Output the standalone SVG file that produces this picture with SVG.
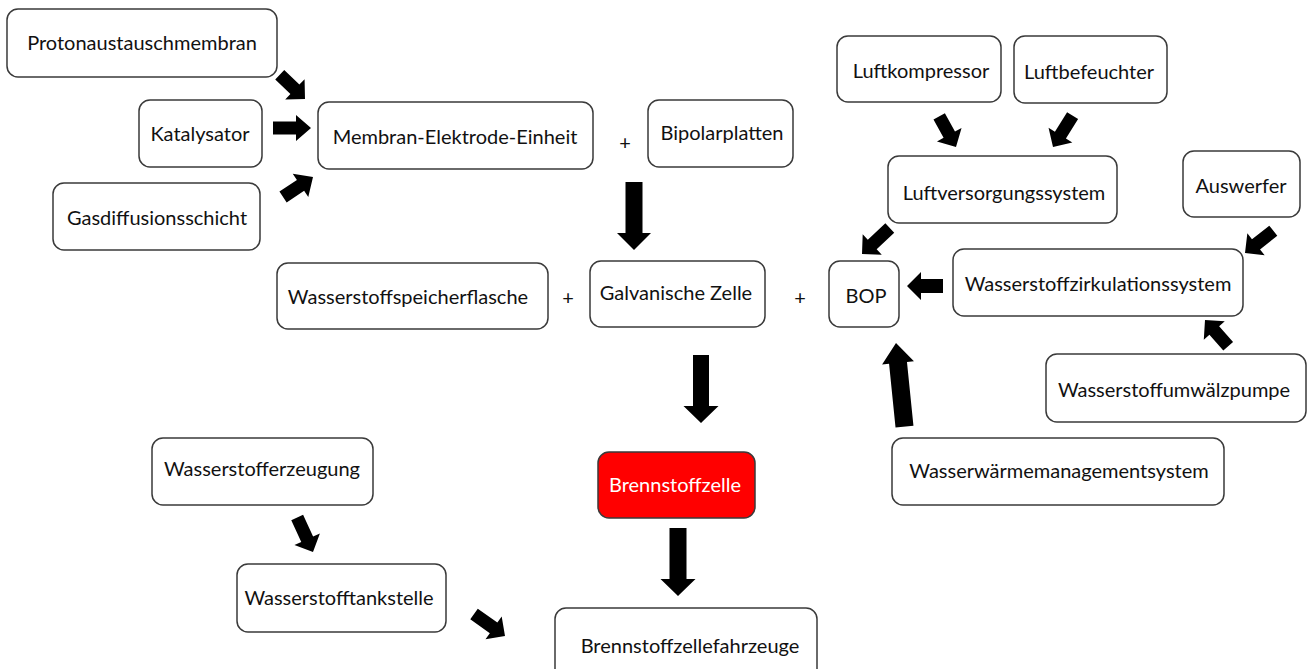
<svg xmlns="http://www.w3.org/2000/svg" width="1310" height="669" viewBox="0 0 1310 669">
<style>
.box{fill:#fff;stroke:#3a3a3a;stroke-width:1.5}
.hot{fill:#ff0000;stroke:#3a3a3a;stroke-width:1.5}
.lbl{font-family:Lato,"Open Sans",sans-serif;font-size:20px;text-anchor:middle;dominant-baseline:central;fill:#111}
.wt{fill:#fff}
.arr{fill:#000}
</style>
<rect width="1310" height="669" fill="#fff"/>
<g id="connectors">
<path class="arr" transform="translate(305,99) rotate(43.8)" d="M-35,-6.5H-14V-14L0,0L-14,14V6.5H-35Z"/>
<path class="arr" transform="translate(311,128) rotate(0)" d="M-38,-6.5H-15V-13L0,0L-15,13V6.5H-38Z"/>
<path class="arr" transform="translate(313,177) rotate(-33.7)" d="M-36,-6.5H-15V-14L0,0L-15,14V6.5H-36Z"/>
<path class="arr" transform="translate(634,250) rotate(90)" d="M-68,-8.5H-17V-17L0,0L-17,17V8.5H-68Z"/>
<path class="arr" transform="translate(701,423) rotate(90)" d="M-68,-8H-17V-17.5L0,0L-17,17.5V8H-68Z"/>
<path class="arr" transform="translate(678,596) rotate(90)" d="M-68,-8.5H-17V-17.5L0,0L-17,17.5V8.5H-68Z"/>
<path class="arr" transform="translate(956,147) rotate(61.3)" d="M-35,-6.5H-14V-14L0,0L-14,14V6.5H-35Z"/>
<path class="arr" transform="translate(1053,147) rotate(122)" d="M-37,-6.5H-14V-14L0,0L-14,14V6.5H-37Z"/>
<path class="arr" transform="translate(862,254) rotate(137)" d="M-38,-6.5H-14V-14L0,0L-14,14V6.5H-38Z"/>
<path class="arr" transform="translate(1245,253) rotate(141.8)" d="M-36,-6.5H-14V-14L0,0L-14,14V6.5H-36Z"/>
<path class="arr" transform="translate(907,286) rotate(180)" d="M-36,-7H-14V-14L0,0L-14,14V7H-36Z"/>
<path class="arr" transform="translate(1205,320) rotate(-131.5)" d="M-35,-6.5H-14V-14L0,0L-14,14V6.5H-35Z"/>
<path class="arr" transform="translate(896,343) rotate(-95.8)" d="M-84,-9H-20V-16L0,0L-20,16V9H-84Z"/>
<path class="arr" transform="translate(313,552) rotate(65.4)" d="M-38,-6.5H-14V-14L0,0L-14,14V6.5H-38Z"/>
<path class="arr" transform="translate(505,636) rotate(35.4)" d="M-38,-6.5H-14V-14L0,0L-14,14V6.5H-38Z"/>
</g>
<g id="n-proton"><rect class="box" x="7" y="9" width="270" height="68" rx="11"/><text class="lbl" x="142" y="42">Protonaustauschmembran</text></g>
<g id="n-kat"><rect class="box" x="139" y="100" width="123" height="67" rx="11"/><text class="lbl" x="200" y="133">Katalysator</text></g>
<g id="n-gas"><rect class="box" x="53" y="183" width="207" height="67" rx="11"/><text class="lbl" x="157" y="217">Gasdiffusionsschicht</text></g>
<g id="n-mea"><rect class="box" x="318" y="102" width="275" height="67" rx="11"/><text class="lbl" x="455" y="136">Membran-Elektrode-Einheit</text></g>
<g id="n-bip"><rect class="box" x="648" y="100" width="145" height="67" rx="11"/><text class="lbl" x="722" y="132">Bipolarplatten</text></g>
<g id="n-plus1"><text class="lbl" x="625" y="142">+</text></g>
<g id="n-speicher"><rect class="box" x="277" y="263" width="271" height="66" rx="11"/><text class="lbl" x="408" y="296">Wasserstoffspeicherflasche</text></g>
<g id="n-plus2"><text class="lbl" x="568" y="297">+</text></g>
<g id="n-galv"><rect class="box" x="590" y="261" width="175" height="66" rx="11"/><text class="lbl" x="676" y="292">Galvanische Zelle</text></g>
<g id="n-plus3"><text class="lbl" x="800" y="297">+</text></g>
<g id="n-bop"><rect class="box" x="829" y="261" width="70" height="66" rx="11"/><text class="lbl" x="866" y="295">BOP</text></g>
<g id="n-kompr"><rect class="box" x="837" y="36" width="164" height="66" rx="11"/><text class="lbl" x="921" y="70">Luftkompressor</text></g>
<g id="n-befeu"><rect class="box" x="1014" y="36" width="153" height="67" rx="11"/><text class="lbl" x="1089" y="71">Luftbefeuchter</text></g>
<g id="n-luftv"><rect class="box" x="888" y="156" width="229" height="67" rx="11"/><text class="lbl" x="1004" y="192">Luftversorgungssystem</text></g>
<g id="n-ausw"><rect class="box" x="1183" y="151" width="117" height="66" rx="11"/><text class="lbl" x="1241" y="185">Auswerfer</text></g>
<g id="n-zirk"><rect class="box" x="953" y="249" width="290" height="67" rx="11"/><text class="lbl" x="1098" y="283">Wasserstoffzirkulationssystem</text></g>
<g id="n-pumpe"><rect class="box" x="1046" y="354" width="260" height="68" rx="11"/><text class="lbl" x="1174" y="389">Wasserstoffumwälzpumpe</text></g>
<g id="n-waerme"><rect class="box" x="892" y="438" width="332" height="67" rx="11"/><text class="lbl" x="1059" y="470">Wasserwärmemanagementsystem</text></g>
<g id="n-bz"><rect class="hot" x="598" y="452" width="157" height="66" rx="11"/><text class="lbl wt" x="675" y="484">Brennstoffzelle</text></g>
<g id="n-erz"><rect class="box" x="152" y="438" width="221" height="67" rx="11"/><text class="lbl" x="262" y="468">Wasserstofferzeugung</text></g>
<g id="n-tank"><rect class="box" x="237" y="564" width="209" height="68" rx="11"/><text class="lbl" x="339" y="597">Wasserstofftankstelle</text></g>
<g id="n-fzg"><rect class="box" x="555" y="608" width="262" height="72" rx="11"/><text class="lbl" x="690" y="645">Brennstoffzellefahrzeuge</text></g>
</svg>
